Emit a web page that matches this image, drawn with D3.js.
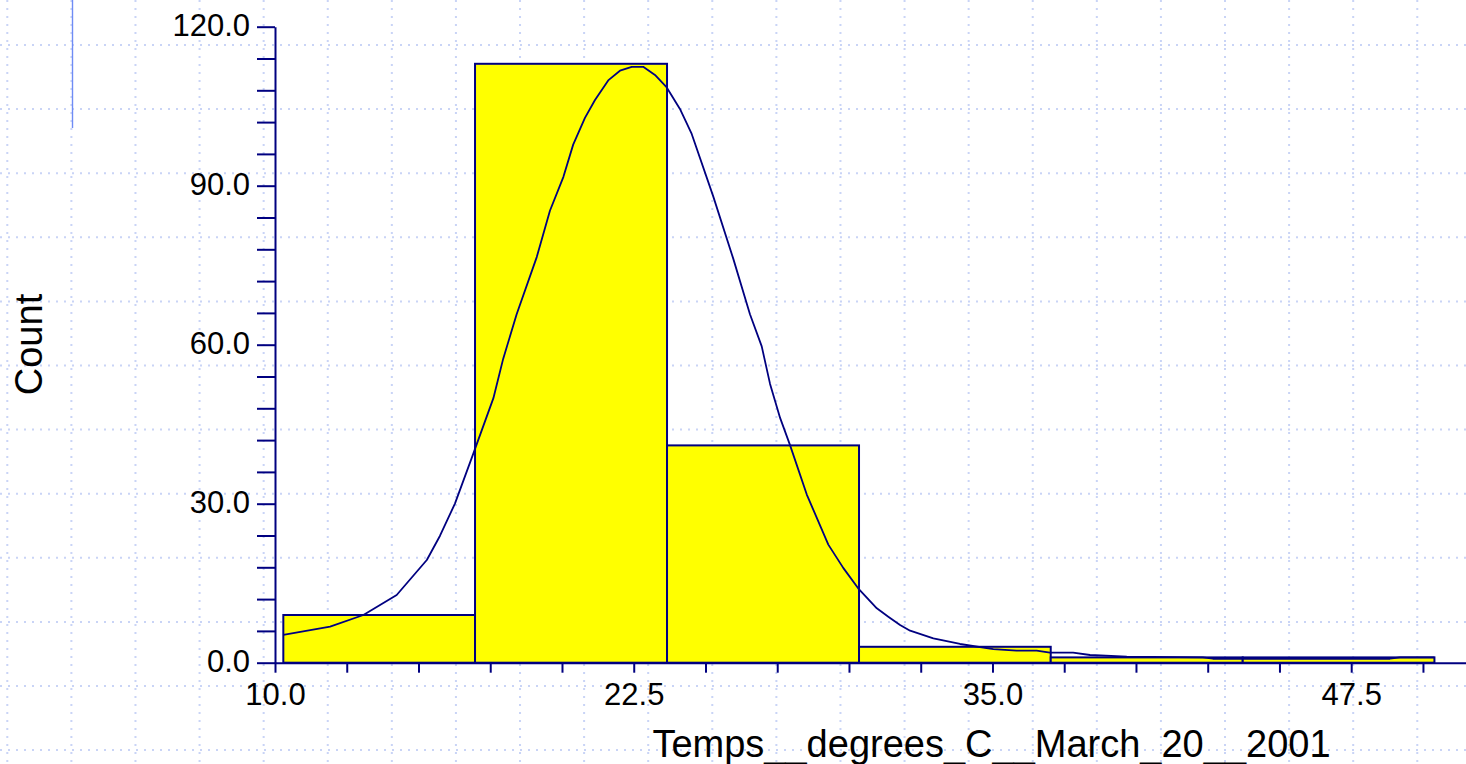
<!DOCTYPE html>
<html>
<head>
<meta charset="utf-8">
<script src="https://cdn.jsdelivr.net/npm/d3@7"></script>
<style>
  html, body { margin: 0; padding: 0; background: #fff; }
  svg { display: block; font-family: "Liberation Sans", Arial, sans-serif; }
</style>
</head>
<body>
<svg id="chart" width="1466" height="764"></svg>
<script>
// ---- data ----
const binEdges = [10.29, 16.97, 23.66, 30.35, 37.03, 43.72, 50.40];
const binCounts = [9, 113, 41, 3, 1, 1];

const curveX = [10.29, 11.92, 13.08, 14.24, 15.29, 15.75, 16.27, 16.91, 17.61, 17.95, 18.42, 19.12, 19.58, 20.05, 20.39, 20.80, 21.15, 21.61, 22.02, 22.43, 22.83, 23.24, 23.65, 24.11, 24.52, 25.27, 25.97, 26.55, 26.96, 27.25, 27.60, 27.94, 28.53, 29.28, 29.80, 30.32, 30.97, 31.37, 31.78, 32.13, 32.94, 33.87, 35.03, 35.84, 36.54, 37.00, 37.81, 38.40, 39.68, 42.33, 42.68, 48.85, 49.20, 50.40];
const curveY = [5.23, 6.79, 9.0, 12.77, 19.38, 23.96, 30.02, 39.45, 49.91, 57.32, 65.74, 76.53, 85.28, 91.68, 97.75, 102.79, 106.17, 109.87, 111.70, 112.43, 112.43, 110.89, 108.53, 104.49, 99.77, 87.98, 76.19, 65.74, 59.68, 52.60, 46.19, 41.15, 31.72, 22.28, 17.89, 14.04, 10.26, 8.68, 7.11, 6.04, 4.60, 3.53, 2.58, 2.26, 2.26, 1.89, 1.89, 1.45, 1.13, 1.02, 0.75, 0.75, 1.02, 1.02];

const xTickValues = d3.range(0, 17).map(i => 10 + i * 2.5);
const xLabelValues = [10.0, 22.5, 35.0, 47.5];
const yTickValues = d3.range(0, 21).map(i => i * 6);
const yLabelValues = [0, 30, 60, 90, 120];

const xTitle = "Temps__degrees_C__March_20__2001";
const yTitle = "Count";

// ---- layout ----
const W = 1466, H = 764;
const navy = "#000080";
const svg = d3.select("#chart");

const x = d3.scaleLinear().domain([10, 51.5]).range([275, 1466]);
const y = d3.scaleLinear().domain([0, 120]).range([662.7, 26.7]);

// background dotted grid
const grid = svg.append("g").attr("stroke", "#c9d4f6").attr("stroke-width", 2)
  .attr("stroke-dasharray", "2,6");
d3.range(0, 23).forEach(i => {
  const gx = 7.3 + i * 64.09;
  grid.append("line").attr("x1", gx).attr("x2", gx).attr("y1", 0).attr("y2", H);
});
d3.range(0, 12).forEach(i => {
  const gy = 45 + i * 64.1;
  grid.append("line").attr("x1", 0).attr("x2", W).attr("y1", gy).attr("y2", gy);
});

// small blue vertical line at top-left
svg.append("line").attr("x1", 72.5).attr("x2", 72.5).attr("y1", 0).attr("y2", 128)
  .attr("stroke", "#6f8cf5").attr("stroke-width", 1.4);

// bars
const bins = binCounts.map((c, i) => ({x0: binEdges[i], x1: binEdges[i + 1], c}));
svg.append("g").selectAll("rect").data(bins).join("rect")
  .attr("x", d => x(d.x0))
  .attr("width", d => x(d.x1) - x(d.x0))
  .attr("y", d => y(d.c))
  .attr("height", d => y(0) - y(d.c))
  .attr("fill", "#ffff00")
  .attr("stroke", navy)
  .attr("stroke-width", 2);

// fitted curve
const pts = curveX.map((v, i) => [v, curveY[i]]);
svg.append("path").datum(pts)
  .attr("d", d3.line().x(d => x(d[0])).y(d => y(d[1])))
  .attr("fill", "none").attr("stroke", navy).attr("stroke-width", 1.8)
  .attr("stroke-linejoin", "round");

// y axis
const yAxis = svg.append("g").attr("transform", `translate(${x(10)},0)`)
  .call(d3.axisLeft(y).tickValues(yTickValues).tickSize(18).tickSizeOuter(0).tickPadding(7)
    .tickFormat(d => yLabelValues.includes(d) ? d3.format(".1f")(d) : ""));
yAxis.select(".domain").attr("stroke", navy).attr("stroke-width", 2);
yAxis.selectAll(".tick line").attr("stroke", navy).attr("stroke-width", 2);
yAxis.selectAll(".tick text").attr("fill", "#000").attr("font-size", 31)
  .attr("font-family", "Liberation Sans, Arial, sans-serif").attr("dy", "0.27em");

// x axis
const xAxis = svg.append("g").attr("transform", `translate(0,${y(0)})`)
  .call(d3.axisBottom(x).tickValues(xTickValues).tickSize(10).tickSizeOuter(0).tickPadding(32)
    .tickFormat(d => xLabelValues.some(v => Math.abs(v - d) < 1e-6) ? d3.format(".1f")(d) : ""));
xAxis.select(".domain").attr("stroke", navy).attr("stroke-width", 2);
xAxis.selectAll(".tick line").attr("stroke", navy).attr("stroke-width", 2);
xAxis.selectAll(".tick text").attr("fill", "#000").attr("font-size", 31)
  .attr("font-family", "Liberation Sans, Arial, sans-serif").attr("dy", "0em");

// titles
svg.append("text").attr("x", 991.5).attr("y", 756.5).attr("text-anchor", "middle")
  .attr("font-size", 38).attr("fill", "#000").text(xTitle);
svg.append("text").attr("transform", "translate(41.7,344.5) rotate(-90)")
  .attr("text-anchor", "middle").attr("font-size", 38).attr("fill", "#000").text(yTitle);
</script>
</body>
</html>
